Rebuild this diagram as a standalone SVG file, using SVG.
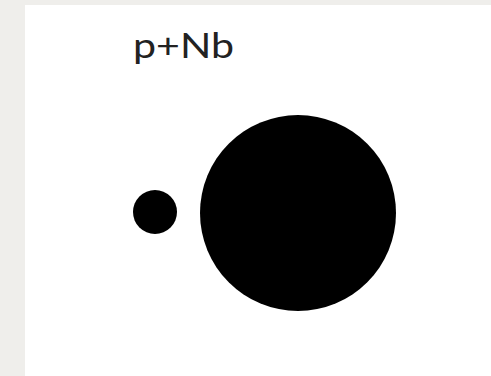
<svg xmlns="http://www.w3.org/2000/svg" width="491" height="376" viewBox="0 0 491 376">
<style>
.lbl{font-family:"Lato","Open Sans","DejaVu Sans",sans-serif;font-size:34px;fill:#222}
</style>
<rect x="0" y="0" width="491" height="376" fill="#efeeeb"/>
<rect x="25" y="5" width="466" height="371" fill="#ffffff"/>
<text class="lbl" x="133" y="58" textLength="101" lengthAdjust="spacingAndGlyphs">p+Nb</text>
<g id="proton"><circle cx="155" cy="212" r="22" fill="#000"/></g>
<g id="nucleus"><circle cx="298" cy="213" r="98" fill="#000"/></g>
<g id="connectors"></g>
</svg>
